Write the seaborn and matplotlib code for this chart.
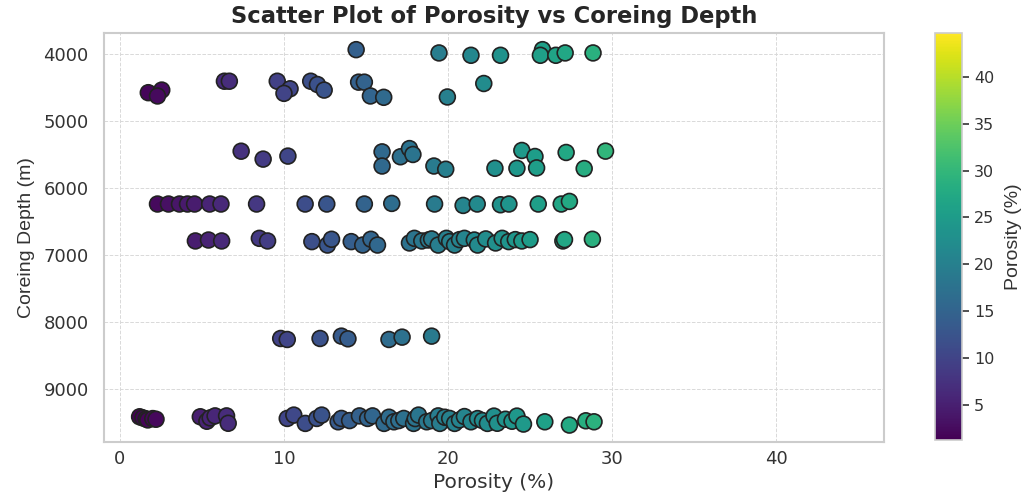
import matplotlib
matplotlib.use("Agg")
import matplotlib.pyplot as plt
import seaborn as sns
import pandas as pd
from matplotlib.colors import Normalize
from matplotlib.cm import ScalarMappable

# ---- data (porosity %, coreing depth m) ----
porosity_4000 = [14.4, 19.45, 21.4, 23.2, 25.76, 25.63, 26.57, 27.14, 28.84]
depth_4000 = [3936, 3985, 4020, 4020, 3936, 4020, 4020, 3985, 3985]

porosity_4500 = [1.73, 2.55, 2.29, 6.37, 6.67, 9.59, 10.37, 10.0, 11.63, 12.04,
                 12.45, 14.55, 14.9, 15.27, 16.08, 19.96, 22.18]
depth_4500 = [4578, 4539, 4627, 4407, 4407, 4407, 4520, 4588, 4407, 4456,
              4539, 4421, 4421, 4627, 4647, 4642, 4441]

porosity_5500 = [7.39, 8.73, 10.24, 15.98, 15.98, 17.1, 17.65, 17.86, 19.14, 19.86,
                 22.86, 24.2, 24.5, 25.3, 25.4, 27.2, 28.3, 29.6]
depth_5500 = [5451, 5569, 5524, 5461, 5672, 5534, 5412, 5500, 5672, 5720,
              5706, 5706, 5440, 5530, 5700, 5470, 5710, 5450]

porosity_6250 = [2.29, 2.96, 3.63, 4.12, 4.55, 5.47, 6.16, 8.33, 11.29, 12.61,
                 14.9, 16.57, 19.18, 20.92, 21.78, 23.2, 23.71, 25.5, 26.9, 27.4]
depth_6250 = [6239, 6239, 6239, 6239, 6239, 6239, 6239, 6239, 6239, 6239,
              6239, 6230, 6239, 6260, 6239, 6250, 6239, 6239, 6239, 6200]

porosity_6750 = [4.6, 5.4, 6.2, 8.5, 9.0, 11.7, 12.65, 12.9, 14.1, 14.8, 15.3, 15.7,
                 17.65, 17.95, 18.4, 18.8, 19.0, 19.4, 19.9, 20.1, 20.4, 20.7, 21.0,
                 21.6, 21.8, 22.3, 22.9, 23.3, 23.7, 24.1, 24.5, 25.0, 27.0, 27.1, 28.8]
depth_6750 = [6790, 6776, 6790, 6751, 6790, 6800, 6851, 6765, 6800, 6851, 6765, 6851,
              6820, 6751, 6790, 6776, 6760, 6851, 6751, 6800, 6851, 6770, 6751,
              6776, 6851, 6760, 6820, 6751, 6800, 6770, 6790, 6770, 6790, 6770, 6765]

porosity_8200 = [9.8, 10.2, 12.2, 13.5, 13.9, 16.4, 17.2, 19.0]
depth_8200 = [8245, 8260, 8245, 8210, 8250, 8260, 8225, 8210]

porosity_9450 = [1.2, 1.4, 1.6, 1.7, 2.0, 2.2,
                 4.9, 5.3, 5.5, 5.8, 6.5, 6.6,
                 10.2, 10.6, 11.3, 12.0, 12.3, 13.3, 13.5, 14.0, 14.6, 15.1, 15.4,
                 16.1, 16.4, 16.7, 17.0, 17.3, 17.9, 18.0, 18.2, 18.7, 19.0, 19.4,
                 19.5, 19.8, 20.1, 20.4, 20.7, 21.0, 21.4, 21.8, 22.1, 22.4, 22.8,
                 23.0, 23.5, 23.9, 24.2, 24.6, 25.9, 27.4, 28.4, 28.9]
depth_9450 = [9413, 9430, 9445, 9460, 9440, 9450,
              9413, 9480, 9430, 9400, 9400, 9510,
              9438, 9388, 9512, 9438, 9388, 9488, 9438, 9470, 9400, 9438, 9400,
              9512, 9420, 9488, 9470, 9438, 9512, 9440, 9388, 9488, 9470, 9400,
              9512, 9420, 9438, 9512, 9460, 9410, 9488, 9440, 9470, 9512, 9403,
              9510, 9450, 9480, 9403, 9522, 9488, 9537, 9473, 9488]

# full porosity range of the data set (colour scale)
porosity_range = (1.2, 44.7)

x_ticks = [0, 10, 20, 30, 40]
y_ticks = [4000, 5000, 6000, 7000, 8000, 9000]
cbar_ticks = [5, 10, 15, 20, 25, 30, 35, 40]

porosity = (porosity_4000 + porosity_4500 + porosity_5500 + porosity_6250
            + porosity_6750 + porosity_8200 + porosity_9450)
depth = (depth_4000 + depth_4500 + depth_5500 + depth_6250
         + depth_6750 + depth_8200 + depth_9450)
df = pd.DataFrame({"Porosity (%)": porosity, "Coreing Depth (m)": depth})

sns.set_theme(style="whitegrid")
plt.rcParams["font.family"] = ["DejaVu Sans"]

fig = plt.figure(figsize=(10.29, 4.95), dpi=100)
ax = fig.add_axes([0.101, 0.107, 0.758, 0.826])
cax = fig.add_axes([0.909, 0.111, 0.026, 0.822])

norm = Normalize(*porosity_range)
sns.scatterplot(data=df, x="Porosity (%)", y="Coreing Depth (m)",
                hue="Porosity (%)", palette="viridis", hue_norm=norm,
                s=130, edgecolor="#222222", linewidth=1.2, legend=False, ax=ax)

span = porosity_range[1] - porosity_range[0]
ax.set_xlim(porosity_range[0] - 0.05 * span, porosity_range[1] + 0.043 * span)
ax.set_ylim(9790, 3690)
ax.set_xticks(x_ticks)
ax.set_yticks(y_ticks)
ax.grid(True, linestyle="--", color="#d9d9d9", linewidth=0.7)
for sp in ax.spines.values():
    sp.set_color("#cccccc")
    sp.set_linewidth(1.5)
ax.tick_params(axis="both", labelsize=13, colors="#333333", length=0)
ax.tick_params(axis="y", pad=11)
ax.tick_params(axis="x", pad=6)

ax.set_title("Scatter Plot of Porosity vs Coreing Depth", fontsize=16.3,
             fontweight="bold", color="#262626", pad=7)
ax.set_xlabel("Porosity (%)", fontsize=14.5, color="#333333", labelpad=3)
ax.set_ylabel("Coreing Depth (m)", fontsize=14, color="#333333",
              family=["Liberation Sans", "DejaVu Sans"], labelpad=6)

cb = fig.colorbar(ScalarMappable(norm=norm, cmap="viridis"), cax=cax)
cb.set_ticks(cbar_ticks)
cb.outline.set_edgecolor("#cccccc")
cb.outline.set_linewidth(1.2)
cax.tick_params(labelsize=11.5, colors="#333333", length=5, width=1.2,
                direction="out", right=True)
cb.set_label("Porosity (%)", fontsize=14, color="#333333",
             family=["Liberation Sans", "DejaVu Sans"], labelpad=8)

fig.savefig("out.png", dpi=100)
